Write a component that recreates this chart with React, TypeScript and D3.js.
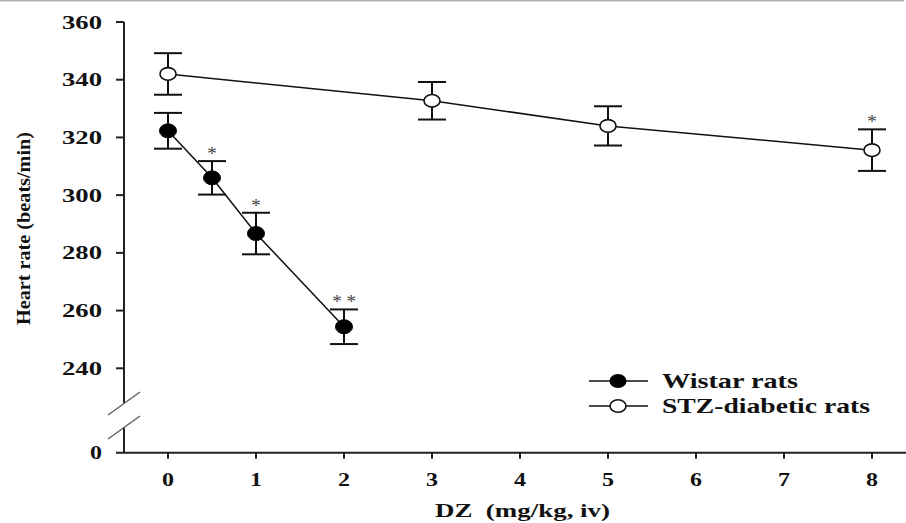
import React from "react";
import * as d3 from "d3";

const wistarDose = [0, 0.5, 1, 2];
const wistarMean = [322.3, 306.0, 286.7, 254.4];
const wistarErr = [6.2, 5.8, 7.2, 6.0];
const wistarSig = ["", "*", "*", "* *"];

const stzDose = [0, 3, 5, 8];
const stzMean = [342.0, 332.7, 324.0, 315.6];
const stzErr = [7.2, 6.5, 6.8, 7.2];
const stzSig = ["", "", "", "*"];

const yTicks = [240, 260, 280, 300, 320, 340, 360];
const xTicks = [0, 1, 2, 3, 4, 5, 6, 7, 8];

const legendLabels = ["Wistar rats", "STZ-diabetic rats"];

const W = 906;
const H = 523;
const axisX = 124;
const zeroY = 452.7;
const font = "'Liberation Serif', 'Times New Roman', serif";

export default function App() {
  const x = d3.scaleLinear().domain([0, 8]).range([168, 872]);
  const y = d3.scaleLinear().domain([240, 360]).range([368.3, 22]);

  const line = d3
    .line<[number, number]>()
    .x((d) => x(d[0]))
    .y((d) => y(d[1]));

  const wPts: [number, number][] = wistarDose.map((d, i) => [d, wistarMean[i]]);
  const sPts: [number, number][] = stzDose.map((d, i) => [d, stzMean[i]]);

  const cap = 14;

  const errBars = (doses: number[], means: number[], errs: number[], key: string) =>
    doses.map((d, i) => {
      const cx = x(d);
      const t = y(means[i] + errs[i]);
      const b = y(means[i] - errs[i]);
      return (
        <g key={key + i} stroke="#111" strokeWidth={2}>
          <line x1={cx} x2={cx} y1={t} y2={b} />
          <line x1={cx - cap} x2={cx + cap} y1={t} y2={t} />
          <line x1={cx - cap} x2={cx + cap} y1={b} y2={b} />
        </g>
      );
    });

  const sigs = (doses: number[], means: number[], errs: number[], labels: string[], key: string) =>
    doses.map((d, i) =>
      labels[i] ? (
        <text
          key={key + "s" + i}
          x={x(d)}
          y={y(means[i] + errs[i]) - 1}
          textAnchor="middle"
          fontFamily={font}
          fontSize={19}
          fill="#444"
        >
          {labels[i]}
        </text>
      ) : null
    );

  return (
    <svg width={W} height={H} style={{ position: "absolute", left: 0, top: 0, background: "#fff" }}>
      <line x1={0} x2={904} y1={0.8} y2={0.8} stroke="#b0b0b0" strokeWidth={1.6} />

      {/* y axis with break */}
      <g stroke="#222" strokeWidth={2}>
        <line x1={axisX} x2={axisX} y1={y(360)} y2={403} />
        <line x1={axisX} x2={axisX} y1={428} y2={zeroY} />
        {yTicks.map((t) => (
          <line key={"yt" + t} x1={116} x2={axisX} y1={y(t)} y2={y(t)} />
        ))}
        <line x1={116} x2={906} y1={zeroY} y2={zeroY} />
        {xTicks.map((t) => (
          <line key={"xt" + t} x1={x(t)} x2={x(t)} y1={zeroY} y2={zeroY + 6} />
        ))}
      </g>
      <g stroke="#555" strokeWidth={1.2}>
        <line x1={108} y1={415} x2={140} y2={392} />
        <line x1={108} y1={439} x2={140} y2={416} />
      </g>

      {/* y tick labels */}
      <g fontFamily={font} fontSize={19} fontWeight="bold" fill="#111" textAnchor="end">
        {yTicks.map((t) => (
          <text key={"yl" + t} x={102} y={y(t) + 6.5} textLength={40} lengthAdjust="spacingAndGlyphs">
            {t}
          </text>
        ))}
        <text x={102} y={zeroY + 6.5} textLength={12} lengthAdjust="spacingAndGlyphs">
          0
        </text>
      </g>

      {/* x tick labels */}
      <g fontFamily={font} fontSize={19} fontWeight="bold" fill="#111" textAnchor="middle">
        {xTicks.map((t) => (
          <text key={"xl" + t} x={x(t)} y={486} textLength={12} lengthAdjust="spacingAndGlyphs">
            {t}
          </text>
        ))}
      </g>

      {/* axis titles */}
      <text
        x={435}
        y={517}
        fontFamily={font}
        fontSize={19}
        fontWeight="bold"
        fill="#111"
        textLength={175}
        lengthAdjust="spacingAndGlyphs"
        style={{ whiteSpace: "pre" }}
      >
        {"DZ  (mg/kg, iv)"}
      </text>
      <text
        transform={`translate(30,325) rotate(-90)`}
        x={0}
        y={0}
        fontFamily={font}
        fontSize={19}
        fontWeight="bold"
        fill="#111"
        textLength={193}
        lengthAdjust="spacingAndGlyphs"
      >
        Heart rate (beats/min)
      </text>

      {/* series lines */}
      <path d={line(wPts) || ""} fill="none" stroke="#111" strokeWidth={1.5} />
      <path d={line(sPts) || ""} fill="none" stroke="#111" strokeWidth={1.5} />

      {errBars(wistarDose, wistarMean, wistarErr, "w")}
      {errBars(stzDose, stzMean, stzErr, "s")}

      {wPts.map((p, i) => (
        <ellipse key={"wm" + i} cx={x(p[0])} cy={y(p[1])} rx={8.5} ry={7} fill="#000" stroke="#000" strokeWidth={1} />
      ))}
      {sPts.map((p, i) => (
        <ellipse key={"sm" + i} cx={x(p[0])} cy={y(p[1])} rx={8} ry={6.3} fill="#fff" stroke="#111" strokeWidth={1.6} />
      ))}

      {sigs(wistarDose, wistarMean, wistarErr, wistarSig, "w")}
      {sigs(stzDose, stzMean, stzErr, stzSig, "s")}

      {/* legend */}
      <g>
        <line x1={589} x2={648} y1={381} y2={381} stroke="#111" strokeWidth={1.5} />
        <ellipse cx={618} cy={381} rx={8.5} ry={7} fill="#000" />
        <line x1={589} x2={648} y1={406} y2={406} stroke="#111" strokeWidth={1.5} />
        <ellipse cx={618} cy={406} rx={8} ry={6.3} fill="#fff" stroke="#111" strokeWidth={1.6} />
        <text x={662} y={388} fontFamily={font} fontSize={21} fontWeight="bold" fill="#111" textLength={136} lengthAdjust="spacingAndGlyphs">
          {legendLabels[0]}
        </text>
        <text x={662} y={413} fontFamily={font} fontSize={21} fontWeight="bold" fill="#111" textLength={208} lengthAdjust="spacingAndGlyphs">
          {legendLabels[1]}
        </text>
      </g>
    </svg>
  );
}
